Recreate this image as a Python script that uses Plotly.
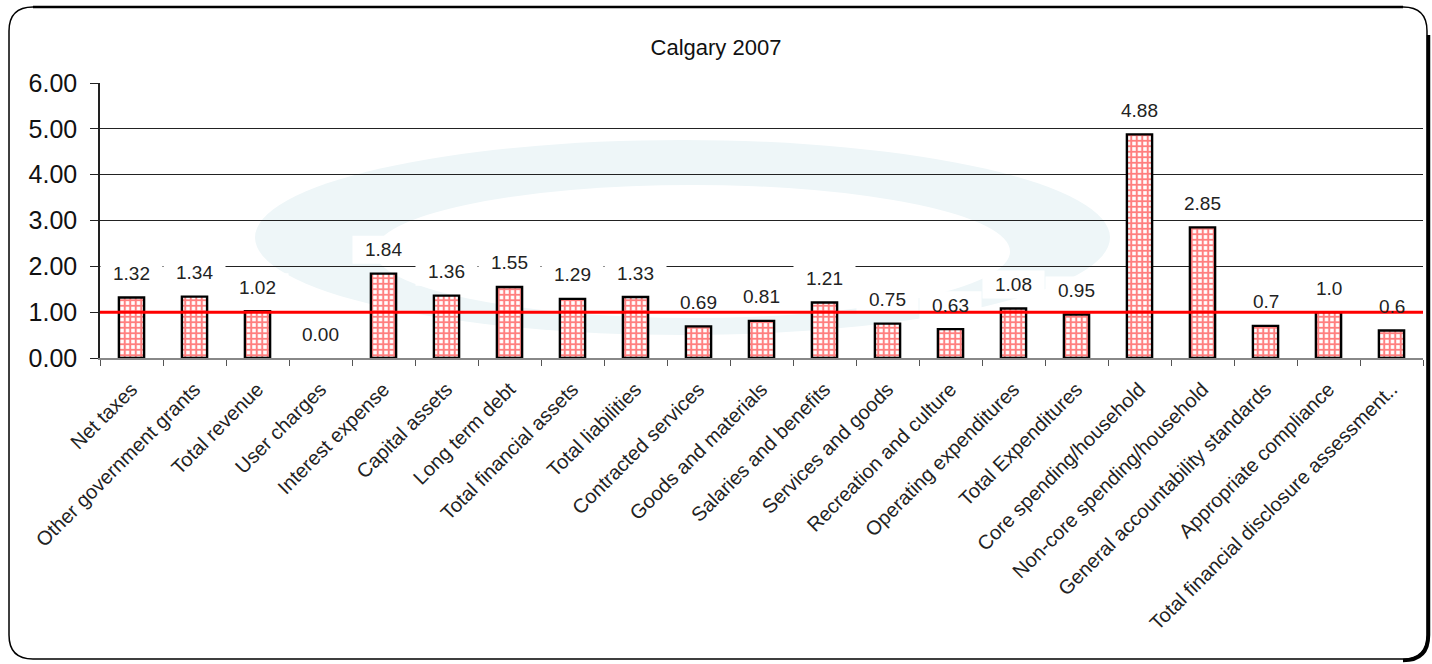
import plotly.graph_objects as go

# Chart data
categories = [
    "Net taxes", "Other government grants", "Total revenue", "User charges",
    "Interest expense", "Capital assets", "Long term debt", "Total financial assets",
    "Total liabilities", "Contracted services", "Goods and materials",
    "Salaries and benefits", "Services and goods", "Recreation and culture",
    "Operating expenditures", "Total Expenditures", "Core spending/household",
    "Non-core spending/household", "General accountability standards",
    "Appropriate compliance", "Total financial disclosure assessment..",
]
value_labels = [
    "1.32", "1.34", "1.02", "0.00", "1.84", "1.36", "1.55", "1.29", "1.33",
    "0.69", "0.81", "1.21", "0.75", "0.63", "1.08", "0.95", "4.88", "2.85",
    "0.7", "1.0", "0.6",
]
values = [float(v) for v in value_labels]
benchmark = 1.0
y_ticks = [0, 1, 2, 3, 4, 5, 6]

W, H = 1432, 664
ML, MR, MT, MB = 100, 9, 83, 306
PW, PH = W - ML - MR, H - MT - MB
FONT = "Liberation Sans, Arial, sans-serif"


def px(x):
    return (x - ML) / PW


def py(y):
    return (H - MB - y) / PH


fig = go.Figure()

fig.add_trace(go.Bar(
    x=categories,
    y=values,
    width=0.4,
    marker=dict(
        color="white",
        line=dict(color="black", width=[2.4 if v > 0 else 0 for v in values]),
        pattern=dict(shape="+", fgcolor="#ff0000", bgcolor="white",
                     size=5.5, solidity=0.6, fillmode="overlay"),
    ),
    hoverinfo="x+y",
    showlegend=False,
))

shapes = []

# faint background emblem
shapes.append(dict(type="circle", xref="paper", yref="paper", layer="below",
                   x0=px(255), x1=px(1110), y0=py(335), y1=py(140),
                   fillcolor="#eef6f8", line=dict(width=0)))
shapes.append(dict(type="circle", xref="paper", yref="paper", layer="below",
                   x0=px(375), x1=px(1010), y0=py(318), y1=py(185),
                   fillcolor="white", line=dict(width=0)))

# white boxes behind the value labels (cover gridlines, sit under bars)
for c, v in zip(categories, values):
    shapes.append(dict(type="rect", layer="between",
                       xref="x", yref="y",
                       xsizemode="pixel", ysizemode="pixel",
                       xanchor=c, yanchor=v,
                       x0=-31, x1=31, y0=10, y1=38,
                       fillcolor="white", line=dict(width=0)))

# benchmark line at 1.0
shapes.append(dict(type="line", xref="paper", yref="y", layer="above",
                   x0=0, x1=1, y0=benchmark, y1=benchmark,
                   line=dict(color="#ff0000", width=3)))

# rounded outer frame
r = 24
L, T, R, B = 9, 7, 1427, 659


def P(x, y):
    return f"{px(x):.5f},{py(y):.5f}"


frame = (f"M {P(L + r, T)} L {P(R - r, T)} Q {P(R, T)} {P(R, T + r)} "
         f"L {P(R, B - r)} Q {P(R, B)} {P(R - r, B)} L {P(L + r, B)} "
         f"Q {P(L, B)} {P(L, B - r)} L {P(L, T + r)} Q {P(L, T)} {P(L + r, T)} Z")
shapes.append(dict(type="path", xref="paper", yref="paper", path=frame,
                   line=dict(color="black", width=1.5), layer="above"))
top_edge = f"M {P(L + r, T)} L {P(R - r, T)}"
shapes.append(dict(type="path", xref="paper", yref="paper", path=top_edge,
                   line=dict(color="black", width=2.5), layer="above"))
shadow = (f"M {P(R + 1.5, T + r + 4)} L {P(R + 1.5, B - r)} "
          f"Q {P(R + 1.5, B + 1.5)} {P(R - r, B + 1.5)}")
shapes.append(dict(type="path", xref="paper", yref="paper", path=shadow,
                   line=dict(color="black", width=3.5), layer="above"))

annotations = []
for c, v, t in zip(categories, values, value_labels):
    annotations.append(dict(x=c, y=v, xref="x", yref="y", text=t,
                            showarrow=False, yshift=24, yanchor="middle",
                            font=dict(family=FONT, size=19, color="#222222")))

fig.update_layout(
    width=W, height=H,
    margin=dict(l=ML, r=MR, t=MT, b=MB),
    paper_bgcolor="white",
    plot_bgcolor="rgba(0,0,0,0)",
    title=dict(text="Calgary 2007", x=0.5, xref="container",
               y=1 - 47 / H, yref="container", yanchor="middle", xanchor="center",
               font=dict(family=FONT, size=22, color="#111111")),
    shapes=shapes,
    annotations=annotations,
    xaxis=dict(
        type="category",
        tickangle=-45,
        tickfont=dict(family=FONT, size=20, color="#222222"),
        showgrid=False,
        showline=True, linecolor="#888888", linewidth=1.5,
        ticks="outside", tickson="boundaries", ticklen=6,
        tickcolor="#555555", tickwidth=1,
        ticklabelstandoff=10,
    ),
    yaxis=dict(
        range=[0, 6],
        tickvals=y_ticks,
        tickformat=".2f",
        tickfont=dict(family=FONT, size=25, color="#111111"),
        showgrid=True, gridcolor="#222222", gridwidth=1,
        showline=True, linecolor="#222222", linewidth=1.5,
        ticks="outside", ticklen=8, tickcolor="#222222",
        ticklabelstandoff=8,
        zeroline=False,
    ),
    font=dict(family=FONT),
)

fig.write_html("out.html")
